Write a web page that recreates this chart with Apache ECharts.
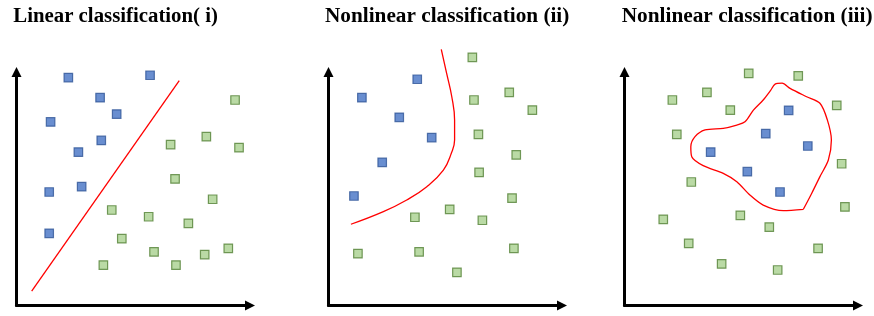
<!DOCTYPE html>
<html><head><meta charset="utf-8">
<script src="https://cdn.jsdelivr.net/npm/echarts@6/dist/echarts.min.js"></script>
<style>html,body{margin:0;padding:0;background:#fff}#c{width:874px;height:316px}</style>
</head><body><div id="c"></div>
<script>
// ---- data ----
const titles = ["Linear classification( i)", "Nonlinear classification (ii)", "Nonlinear classification (iii)"];

const p1Blue = [[2.22,9.76],[5.72,9.86],[3.58,8.90],[4.29,8.20],[1.46,7.86],[3.63,7.07],[2.65,6.57],[1.40,4.86],[2.79,5.09],[1.40,3.09]];
const p1Green = [[9.36,8.80],[8.13,7.23],[9.53,6.76],[6.60,6.89],[6.79,5.42],[8.40,4.55],[4.08,4.09],[5.66,3.80],[7.36,3.52],[4.51,2.86],[5.89,2.30],[8.06,2.18],[9.07,2.45],[3.72,1.73],[6.83,1.73]];
const p1Boundary = [[0.65,0.62],[6.97,9.63]];

const p2Blue = [[3.80,9.69],[1.43,8.90],[3.03,8.06],[4.42,7.19],[2.30,6.13],[1.09,4.69]];
const p2Green = [[6.16,10.63],[7.74,9.13],[6.23,8.80],[8.73,8.37],[6.42,7.33],[8.04,6.45],[6.45,5.70],[7.86,4.60],[5.19,4.12],[3.70,3.78],[6.59,3.65],[1.26,2.22],[3.88,2.30],[7.94,2.45],[5.50,1.42]];
const p2Boundary = [[4.83,10.97],[5.06,9.94],[5.28,8.94],[5.40,7.94],[5.40,7.09],[5.26,6.52],[4.92,5.80],[4.21,5.09],[3.35,4.52],[2.35,4.02],[0.96,3.48]];

const p3Blue = [[7.03,8.36],[6.05,7.36],[7.85,6.83],[3.69,6.57],[5.26,5.73],[6.66,4.86]];
const p3Green = [[5.32,9.94],[7.44,9.83],[3.53,9.13],[2.05,8.80],[4.53,8.37],[9.09,8.57],[2.24,7.33],[9.30,6.07],[2.86,5.29],[9.44,4.22],[1.66,3.69],[4.96,3.86],[6.20,3.36],[2.75,2.66],[8.29,2.45],[4.16,1.78],[6.56,1.52]];
const p3Boundary = [[7.66,4.12],[6.80,4.06],[5.94,4.30],[5.37,4.73],[4.81,5.30],[4.23,5.66],[3.37,5.99],[2.88,6.37],[2.84,6.80],[3.02,7.23],[3.45,7.52],[4.23,7.59],[4.81,7.73],[5.16,7.87],[5.52,8.37],[5.94,8.80],[6.25,9.20],[6.45,9.48],[6.75,9.52],[7.09,9.30],[7.80,8.94],[8.37,8.66],[8.69,7.94],[8.86,7.09],[8.73,6.23],[8.37,5.52],[8.02,4.81],[7.66,4.12]];

// ---- layout / style ----
const gridLefts = [16.5, 328.5, 624.5];
const titleX = [13.3, 325, 621.7];
const titleW = [204.7, 244.3, 251];
const titleBaseline = 23.3;
const FONT = '"Liberation Serif", "Times New Roman", serif';
const BLUE = {color:'#4472C4', borderColor:'#2F5597', borderWidth:1.2};
const GREEN = {color:'#A9D18E', borderColor:'#538135', borderWidth:1.2};

const cv = document.createElement('canvas').getContext('2d');
function fitSize(text, w){
  cv.font = 'bold 100px ' + FONT;
  return 100 * w / cv.measureText(text).width;
}

const panels = [
  {blue:p1Blue, green:p1Green, line:p1Boundary, smooth:false},
  {blue:p2Blue, green:p2Green, line:p2Boundary, smooth:0.45},
  {blue:p3Blue, green:p3Green, line:p3Boundary, smooth:0.3}
];

const grid=[], xAxis=[], yAxis=[], series=[], graphic=[];
const axisLine = () => ({show:true, onZero:false, symbol:['none','triangle'], symbolSize:[10,10],
  lineStyle:{color:'#000', width:3}});
panels.forEach((p,i)=>{
  grid.push({left:gridLefts[i], top:72, width:233.5, height:233.5, containLabel:false});
  xAxis.push({gridIndex:i, type:'value', min:0, max:10, axisLine:axisLine(), axisTick:{show:false}, axisLabel:{show:false}, splitLine:{show:false}});
  yAxis.push({gridIndex:i, type:'value', min:0, max:10, axisLine:axisLine(), axisTick:{show:false}, axisLabel:{show:false}, splitLine:{show:false}});
  series.push({type:'line', xAxisIndex:i, yAxisIndex:i, data:p.line, smooth:p.smooth, showSymbol:false, symbol:'none', clip:false,
    lineStyle:{color:'#FF0000', width:1.3}, silent:true, z:3});
  series.push({type:'scatter', xAxisIndex:i, yAxisIndex:i, data:p.blue, symbol:'rect', symbolSize:8.5, itemStyle:BLUE, clip:false, z:4});
  series.push({type:'scatter', xAxisIndex:i, yAxisIndex:i, data:p.green, symbol:'rect', symbolSize:8.5, itemStyle:GREEN, clip:false, z:4});
  const fs = fitSize(titles[i], titleW[i]);
  graphic.push({type:'text', x:titleX[i], y:titleBaseline - 0.3375*fs,
    style:{text:titles[i], font:'bold '+fs.toFixed(2)+'px '+FONT, fill:'#000', textAlign:'left', verticalAlign:'middle'}});
});

const chart = echarts.init(document.getElementById('c'), null, {renderer:'canvas'});
chart.setOption({animation:false, backgroundColor:'#fff', grid, xAxis, yAxis, series, graphic});
</script></body></html>
